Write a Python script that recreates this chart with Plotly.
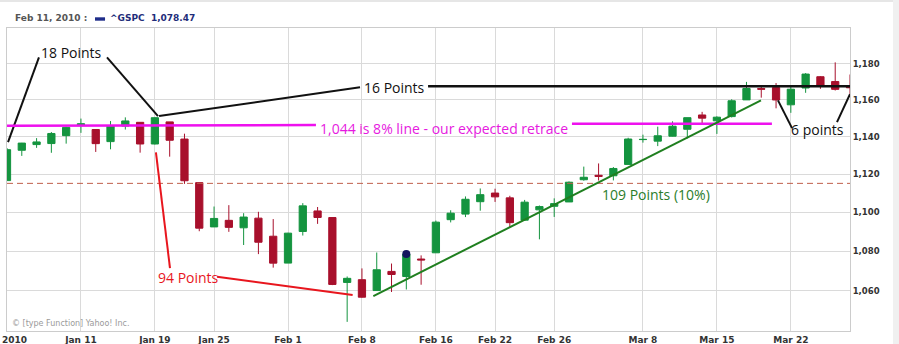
import math
import plotly.graph_objects as go

# ---------------- data (S&P 500, ^GSPC, daily) ----------------
dates = ["2010-01-04", "2010-01-05", "2010-01-06", "2010-01-07", "2010-01-08",
         "2010-01-11", "2010-01-12", "2010-01-13", "2010-01-14", "2010-01-15",
         "2010-01-19", "2010-01-20", "2010-01-21", "2010-01-22", "2010-01-25",
         "2010-01-26", "2010-01-27", "2010-01-28", "2010-01-29",
         "2010-02-01", "2010-02-02", "2010-02-03", "2010-02-04", "2010-02-05",
         "2010-02-08", "2010-02-09", "2010-02-10", "2010-02-11", "2010-02-12",
         "2010-02-16", "2010-02-17", "2010-02-18", "2010-02-19", "2010-02-22",
         "2010-02-23", "2010-02-24", "2010-02-25", "2010-02-26",
         "2010-03-01", "2010-03-02", "2010-03-03", "2010-03-04", "2010-03-05",
         "2010-03-08", "2010-03-09", "2010-03-10", "2010-03-11", "2010-03-12",
         "2010-03-15", "2010-03-16", "2010-03-17", "2010-03-18", "2010-03-19",
         "2010-03-22", "2010-03-23", "2010-03-24", "2010-03-25", "2010-03-26"]

open_ = [1116.56, 1132.66, 1135.71, 1136.27, 1140.52, 1145.96, 1143.81, 1137.31, 1145.68, 1147.72,
         1136.03, 1147.95, 1138.68, 1115.49, 1092.40, 1095.80, 1091.94, 1096.93, 1087.61,
         1073.89, 1090.05, 1100.67, 1097.25, 1064.12, 1065.51, 1060.06, 1069.68, 1067.10, 1075.95,
         1079.13, 1096.14, 1099.03, 1105.49, 1110.00, 1107.49, 1095.89, 1101.24, 1103.10,
         1105.36, 1117.01, 1119.36, 1119.12, 1125.12, 1138.40, 1137.56, 1140.22, 1143.96, 1151.71,
         1148.53, 1150.83, 1159.94, 1166.13, 1166.68, 1157.25, 1166.47, 1172.70, 1170.03, 1167.58]
high = [1133.87, 1136.63, 1139.19, 1142.46, 1145.39, 1149.74, 1143.81, 1148.40, 1150.41, 1147.77,
        1150.45, 1147.95, 1141.58, 1115.49, 1102.97, 1103.69, 1099.51, 1100.22, 1096.45,
        1089.38, 1104.73, 1102.72, 1097.25, 1067.13, 1071.20, 1079.28, 1073.67, 1080.04, 1077.81,
        1095.67, 1101.03, 1108.24, 1112.42, 1112.29, 1108.58, 1106.42, 1103.50, 1107.24,
        1116.11, 1123.96, 1125.64, 1123.73, 1139.38, 1141.05, 1145.37, 1148.26, 1150.24, 1153.41,
        1150.98, 1160.28, 1169.84, 1167.77, 1169.20, 1167.82, 1174.72, 1173.04, 1180.69, 1173.93]
low = [1116.56, 1129.66, 1133.95, 1131.32, 1136.22, 1142.02, 1131.77, 1133.18, 1143.80, 1131.39,
       1135.77, 1129.25, 1114.84, 1090.18, 1092.40, 1089.86, 1083.11, 1078.46, 1071.59,
       1073.89, 1087.96, 1093.97, 1062.78, 1044.50, 1056.51, 1060.06, 1059.34, 1060.59, 1062.97,
       1079.13, 1094.72, 1097.48, 1100.80, 1105.38, 1092.18, 1095.50, 1086.02, 1097.56,
       1105.36, 1116.51, 1116.58, 1116.66, 1125.12, 1136.77, 1134.90, 1140.09, 1138.99, 1146.97,
       1141.45, 1150.35, 1159.94, 1161.16, 1155.33, 1152.88, 1163.83, 1166.01, 1165.09, 1161.48]
close = [1132.99, 1136.52, 1137.14, 1141.69, 1144.98, 1146.98, 1136.22, 1145.68, 1148.46, 1136.03,
         1150.23, 1138.04, 1116.48, 1091.76, 1096.78, 1092.17, 1097.50, 1084.53, 1073.87,
         1089.19, 1103.32, 1097.28, 1063.11, 1066.19, 1056.74, 1070.52, 1068.13, 1078.47, 1075.51,
         1094.87, 1099.51, 1106.75, 1109.17, 1108.01, 1094.60, 1105.24, 1102.94, 1104.49,
         1115.71, 1118.31, 1118.79, 1122.97, 1138.70, 1138.50, 1140.45, 1145.61, 1150.24, 1149.99,
         1150.51, 1159.46, 1166.21, 1165.83, 1159.90, 1165.81, 1174.17, 1167.72, 1165.73, 1166.59]

prev_close_2009 = 1115.10
hover_date = "2010-02-11"

tick_dates = ["2010-01-11", "2010-01-19", "2010-01-25", "2010-02-01", "2010-02-08",
              "2010-02-16", "2010-02-22", "2010-02-26", "2010-03-08", "2010-03-15", "2010-03-22"]
tick_labels = ["Jan 11", "Jan 19", "Jan 25", "Feb 1", "Feb 8",
               "Feb 16", "Feb 22", "Feb 26", "Mar 8", "Mar 15", "Mar 22"]
first_label = "2010"

y_ticks = [1060, 1080, 1100, 1120, 1140, 1160, 1180]
y_tick_labels = ["1,060", "1,080", "1,100", "1,120", "1,140", "1,160", "1,180"]

# hand-drawn annotation lines: (x in trading-day index, price)
ann_lines = {
    "pts18_a": ([0.07, 2.16], [1137.0, 1183.5], "#111111", 2.0),
    "pts18_b": ([6.76, 10.21], [1183.5, 1151.1], "#111111", 2.0),
    "pts16":   ([10.28, 23.87], [1151.1, 1166.9], "#111111", 2.0),
    "level":   ([28.47, 57.0], [1167.4, 1167.4], "#111111", 2.6),
    "mag_l":   ([0.0, 20.89], [1145.9, 1146.2], "#ee11ee", 2.5),
    "mag_r":   ([38.20, 51.72], [1147.0, 1147.0], "#ee11ee", 2.5),
    "red_a":   ([10.07, 11.02], [1131.6, 1071.4], "#e8161e", 2.0),
    "red_b":   ([14.20, 23.37], [1067.0, 1057.8], "#e8161e", 2.0),
    "green":   ([24.77, 50.98], [1057.3, 1159.7], "#1f7f1f", 2.0),
    "six_a":   ([52.13, 53.08], [1159.7, 1144.6], "#111111", 2.0),
    "six_b":   ([56.12, 57.0], [1147.8, 1163.1], "#111111", 2.0),
}
ann_texts = [
    ("18 Points", 4.39, 1186.3, "#111111"),
    ("16 Points", 26.17, 1167.0, "#111111"),
    ("1,044 is 8% line - our expected retrace", 29.55, 1144.6, "#e619e0"),
    ("94 Points", 12.24, 1066.8, "#e8161e"),
    ("109 Points (10%)", 43.88, 1109.3, "#2a7d2a"),
    ("6 points", 54.77, 1144.1, "#111111"),
]

# ---------------- figure ----------------
xs = list(range(len(dates)))
fig = go.Figure()

fig.add_trace(go.Candlestick(
    x=xs, open=open_, high=high, low=low, close=close,
    increasing=dict(line=dict(color="#14943f", width=1), fillcolor="#14943f"),
    decreasing=dict(line=dict(color="#a8102c", width=1), fillcolor="#a8102c"),
    showlegend=False, hoverinfo="skip",
))

# previous close dashed line
fig.add_trace(go.Scatter(x=[xs[0], xs[-1]], y=[prev_close_2009, prev_close_2009], mode="lines",
                         line=dict(color="#c0604c", width=1, dash="6px,4px"),
                         showlegend=False, hoverinfo="skip"))

for name, (lx, ly, col, w) in ann_lines.items():
    fig.add_trace(go.Scatter(x=lx, y=ly, mode="lines", line=dict(color=col, width=w),
                             showlegend=False, hoverinfo="skip"))

hi = dates.index(hover_date)
fig.add_trace(go.Scatter(x=[xs[hi]], y=[close[hi]], mode="markers",
                         marker=dict(color="#15155e", size=8),
                         showlegend=False, hoverinfo="skip"))

for txt, ax_, ay_, col in ann_texts:
    fig.add_annotation(x=ax_, y=math.log10(ay_), xref="x", yref="y", text=txt, showarrow=False,
                       font=dict(family="Open Sans", size=14, color=col), xanchor="center", yanchor="middle")

# header
hdr_date = "Feb 11, 2010 :"
fig.add_annotation(xref="paper", yref="paper", x=0.0071, y=1.033, xanchor="left", yanchor="middle",
                   text=f"<b>{hdr_date}</b>", showarrow=False,
                   font=dict(family="DejaVu Sans", size=9, color="#555555"))
fig.add_annotation(xref="paper", yref="paper", x=0.1198, y=1.033, xanchor="left", yanchor="middle",
                   text=f"<b>^GSPC  {close[hi]:,.2f}</b>", showarrow=False,
                   font=dict(family="DejaVu Sans", size=9, color="#1f2d7a"))
fig.add_shape(type="rect", xref="paper", yref="paper", x0=0.1044, x1=0.1163, y0=1.0241, y1=1.0353,
              fillcolor="#1f2d8a", line=dict(width=0))

# watermark
fig.add_annotation(xref="paper", yref="paper", x=0.0036, y=0.0264, xanchor="left", yanchor="middle",
                   text="\u00a9 [type Function] Yahoo! Inc.", showarrow=False,
                   font=dict(family="DejaVu Sans", size=8, color="#9a9a9a"))

# first x label (left-aligned at the edge)
fig.add_annotation(xref="paper", yref="paper", x=-0.0083, y=-0.0281, xanchor="left", yanchor="middle",
                   text=f"<b>{first_label}</b>", showarrow=False,
                   font=dict(family="DejaVu Sans", size=9, color="#333333"))

# frame bits
fig.add_shape(type="rect", xref="paper", yref="paper", x0=-0.0083, x1=1.0581, y0=1.0858, y1=1.0924,
              fillcolor="#e6e6e6", line=dict(width=0))
fig.add_shape(type="rect", xref="paper", yref="paper", x0=1.0510, x1=1.0581, y0=-0.05, y1=1.0924,
              fillcolor="#f0f0f0", line=dict(width=0))

fig.update_layout(
    width=899, height=344,
    margin=dict(l=7, r=49, t=28, b=13, autoexpand=False),
    paper_bgcolor="white", plot_bgcolor="white",
    showlegend=False,
    xaxis=dict(range=[0, len(dates) - 1], automargin=False,
               tickvals=[dates.index(d) for d in tick_dates],
               ticktext=[f"<b>{t}</b>" for t in tick_labels],
               showgrid=True, gridcolor="#dadada", gridwidth=1,
               showline=True, linecolor="#cccccc", linewidth=1, mirror=True,
               ticks="", zeroline=False, rangeslider=dict(visible=False), fixedrange=True,
               tickfont=dict(family="DejaVu Sans", size=9, color="#333333")),
    yaxis=dict(type="log", range=[math.log10(1040), math.log10(1200)], automargin=False,
               side="right", tickvals=y_ticks,
               ticktext=[f"<b>{t}</b>" for t in y_tick_labels],
               showgrid=True, gridcolor="#dadada", gridwidth=1,
               showline=True, linecolor="#cccccc", linewidth=1, mirror=True,
               ticks="", zeroline=False, fixedrange=True,
               tickfont=dict(family="DejaVu Sans", size=8.5, color="#333333")),
)

fig.write_html("out.html")
